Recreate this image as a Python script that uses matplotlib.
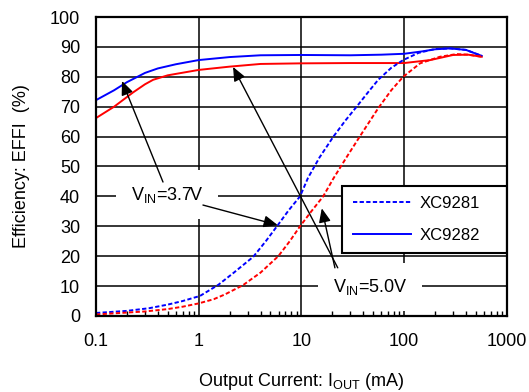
import matplotlib
matplotlib.use('Agg')
import matplotlib.pyplot as plt
from matplotlib.patches import Rectangle
from matplotlib.lines import Line2D
from matplotlib.ticker import LogLocator, NullFormatter, FixedLocator

plt.rcParams['font.family'] = ['Liberation Sans', 'DejaVu Sans']
plt.rcParams['mathtext.fontset'] = 'custom'
plt.rcParams['mathtext.rm'] = 'Liberation Sans'

# XC9282 (solid), VIN = 3.7V
i_9282_37 = [0.1, 0.15, 0.2, 0.3, 0.4, 0.6, 1, 2, 4, 10, 30, 60, 100, 150, 200, 280, 400, 570]
e_9282_37 = [72.2, 75.5, 78.2, 81.3, 82.8, 84.2, 85.6, 86.6, 87.2, 87.3, 87.2, 87.4, 87.7, 88.5, 89.2, 89.5, 89.0, 87.0]

# XC9282 (solid), VIN = 5.0V
i_9282_50 = [0.1, 0.15, 0.23, 0.3, 0.36, 0.5, 1, 2, 4, 10, 30, 100, 180, 300, 420, 570]
e_9282_50 = [66.2, 70.0, 74.8, 77.5, 79.0, 80.5, 82.3, 83.4, 84.3, 84.5, 84.6, 84.6, 85.6, 87.3, 87.4, 86.7]

# XC9281 (dashed), VIN = 3.7V
i_9281_37 = [0.1, 0.2, 0.33, 0.5, 0.7, 1.03, 1.55, 2.2, 3.4, 4.5, 5.9, 7.5, 9.7, 11.6, 15, 20.5, 27, 34.5, 45, 56, 75, 98, 138, 200, 280, 400, 570]
e_9281_37 = [1.0, 1.7, 2.6, 3.8, 5.0, 6.7, 10.4, 14.5, 19.8, 25.0, 30.4, 35.3, 40.0, 46.2, 53.0, 60.0, 65.5, 70.0, 75.0, 79.0, 83.0, 85.6, 88.0, 89.3, 89.5, 89.0, 87.0]

# XC9281 (dashed), VIN = 5.0V
i_9281_50 = [0.1, 0.3, 0.5, 0.7, 1.0, 1.4, 1.8, 2.7, 4.0, 5.96, 7.7, 9.7, 12.5, 16.3, 20.5, 28, 37, 46, 56, 75, 98, 143, 223, 325, 420, 570]
e_9281_50 = [0.5, 1.5, 2.3, 3.1, 4.2, 5.6, 7.2, 10.3, 14.5, 20.0, 25.0, 30.0, 35.0, 40.0, 46.0, 53.5, 60.0, 65.0, 69.5, 75.5, 80.0, 84.5, 86.7, 87.6, 87.4, 86.7]

x_ticks = [0.1, 1, 10, 100, 1000]
x_tick_labels = ['0.1', '1', '10', '100', '1000']
y_ticks = list(range(0, 101, 10))

fig = plt.figure(figsize=(5.29, 3.92), dpi=100)
ax = fig.add_axes([0.1815, 0.194, 0.7765, 0.7626])

lw = 1.4
ax.plot(i_9282_37, e_9282_37, color='#0000ff', lw=lw, zorder=2)
ax.plot(i_9282_50, e_9282_50, color='#ff0000', lw=lw, zorder=2)
ax.plot(i_9281_37, e_9281_37, color='#0000ff', lw=lw, dashes=(2.2, 1.2), zorder=2)
ax.plot(i_9281_50, e_9281_50, color='#ff0000', lw=lw, dashes=(2.2, 1.2), zorder=2)

ax.set_xscale('log')
ax.set_xlim(0.1, 1000)
ax.set_ylim(0, 100)
ax.xaxis.set_major_locator(FixedLocator(x_ticks))
ax.set_xticklabels(x_tick_labels)
ax.xaxis.set_minor_locator(LogLocator(base=10, subs=range(2, 10)))
ax.xaxis.set_minor_formatter(NullFormatter())
ax.set_yticks(y_ticks)

ax.grid(True, which='major', color='black', lw=1.1, zorder=1)
ax.tick_params(axis='both', which='major', length=0, labelsize=13)
ax.tick_params(axis='y', pad=11.5)
ax.tick_params(axis='x', pad=12.5)
ax.tick_params(axis='x', which='minor', direction='in', length=3.6, width=1.0,
               bottom=True, top=False)
for s in ax.spines.values():
    s.set_linewidth(1.6)
    s.set_zorder(6)

ax.set_xlabel('Output Current: I$_{\\rm OUT}$ (mA)', fontsize=13, labelpad=15)
ax.set_ylabel('Efficiency: EFFI  (%)', fontsize=13, labelpad=14)

# legend box
ax.add_patch(Rectangle((0.599, 0.211), 0.401, 0.224, transform=ax.transAxes,
                       facecolor='white', edgecolor='black', lw=1.5, zorder=3))
handles = [Line2D([], [], color='#0000ff', lw=lw, dashes=(2.2, 1.2)),
           Line2D([], [], color='#0000ff', lw=lw)]
leg = ax.legend(handles, ['XC9281', 'XC9282'], loc='center left',
                bbox_to_anchor=(0.625, 0.323), frameon=False, fontsize=12,
                handlelength=3.5, handletextpad=0.5, labelspacing=1.0,
                borderpad=0, borderaxespad=0)
leg.set_zorder(4)

# labels with arrows
box = dict(boxstyle='square,pad=0.8', facecolor='white', edgecolor='none')
ax.text(0.49, 40.5, 'V$_{\\rm IN}$=3.7V', fontsize=13, ha='center', va='center',
        bbox=box, zorder=3)
ax.text(46.6, 9.7, 'V$_{\\rm IN}$=5.0V', fontsize=13, ha='center', va='center',
        bbox=box, zorder=3)

arrow = dict(arrowstyle='-|>,head_length=0.7,head_width=0.3', color='black',
             lw=1.0, mutation_scale=12, shrinkA=0, shrinkB=0)
ax.annotate('', xy=(0.179, 78.6), xytext=(0.449, 44.8), arrowprops=arrow, zorder=5)
ax.annotate('', xy=(5.88, 30.4), xytext=(1.1, 37.1), arrowprops=arrow, zorder=5)
ax.annotate('', xy=(15.8, 36.0), xytext=(21.2, 16.1), arrowprops=arrow, zorder=5)
ax.annotate('', xy=(2.16, 83.3), xytext=(22.6, 16.1), arrowprops=arrow, zorder=5)

fig.savefig('out.png', dpi=100)
